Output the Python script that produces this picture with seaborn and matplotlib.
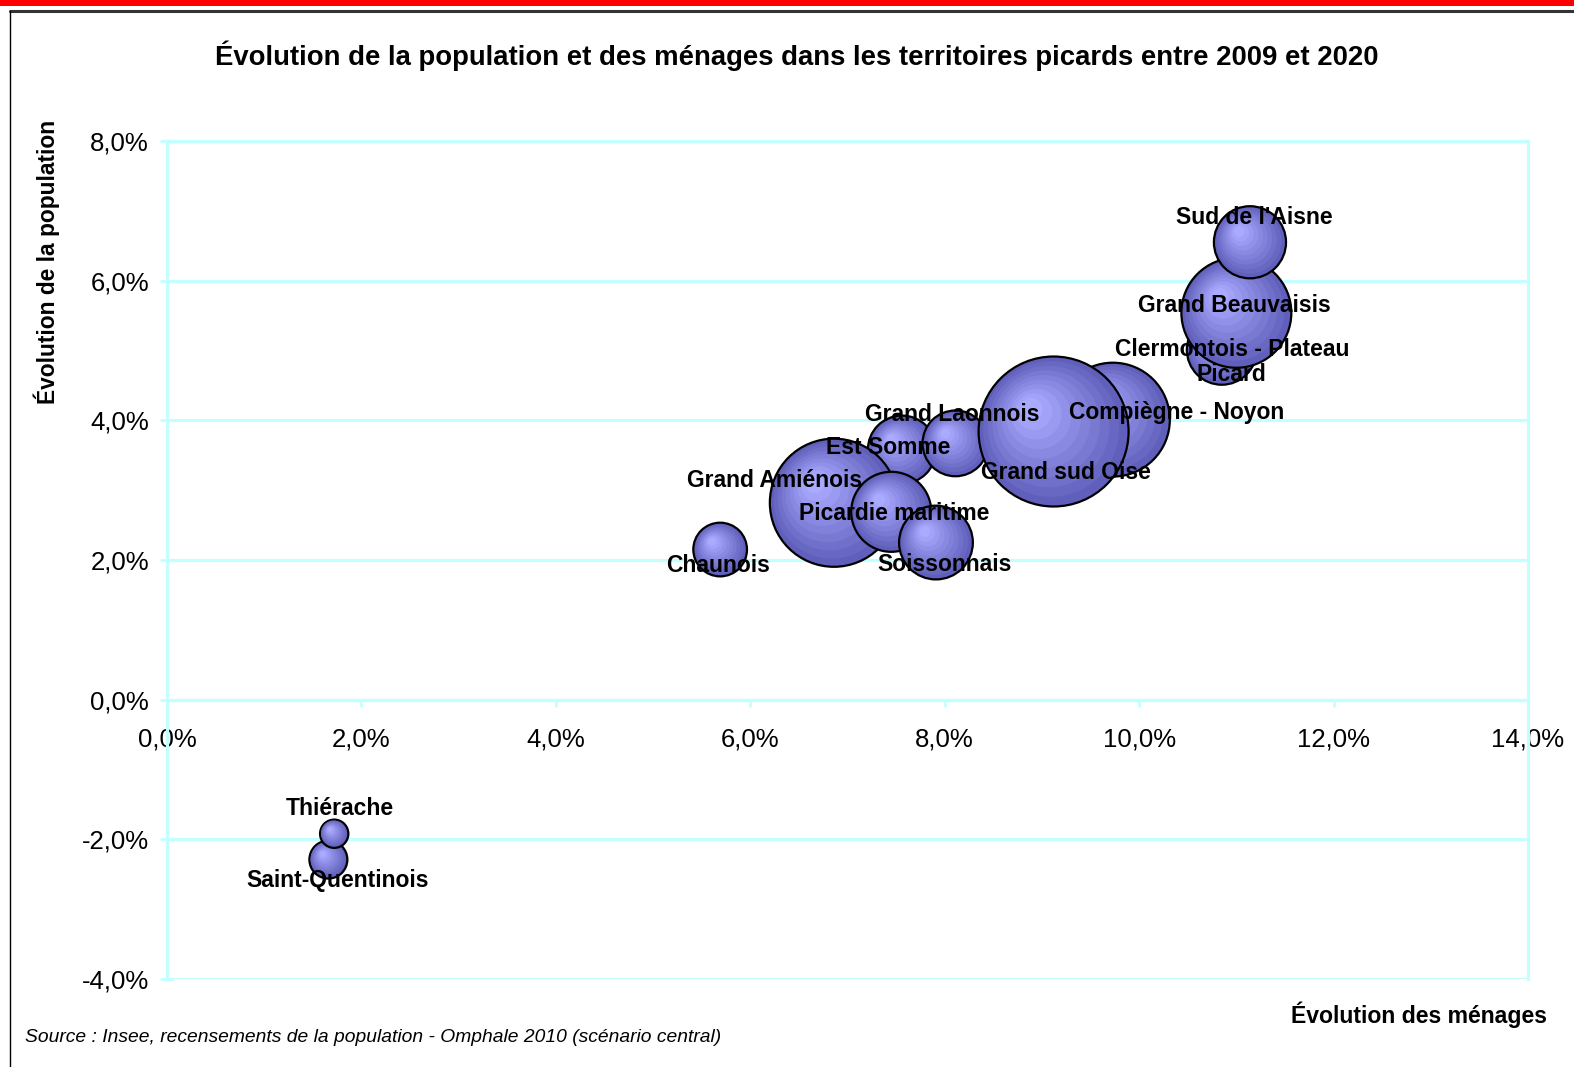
import numpy as np
import pandas as pd
import seaborn as sns
import matplotlib.pyplot as plt
from matplotlib.colors import to_rgb
from matplotlib.ticker import FuncFormatter
from matplotlib.lines import Line2D
from matplotlib.patches import Rectangle

# Données (ordre = ordre de tracé)
territoires = ['Saint-Quentinois', 'Thiérache', 'Chaunois', 'Est Somme', 'Grand Amiénois',
               'Picardie maritime', 'Soissonnais', 'Grand Laonnois', 'Compiègne - Noyon',
               'Grand sud Oise', 'Clermontois - Plateau\nPicard', 'Grand Beauvaisis', "Sud de l'Aisne"]
evol_menages = [1.66, 1.72, 5.69, 7.56, 6.86, 7.45, 7.91, 8.11, 9.73, 9.12, 10.85, 11.00, 11.14]
evol_population = [-2.29, -1.92, 2.15, 3.58, 2.82, 2.69, 2.25, 3.67, 4.01, 3.84, 5.01, 5.54, 6.55]
taille_bulle = [18, 10, 36, 58, 205, 80, 68, 54, 162, 281, 61, 151, 65]

x_ticks = [0, 2, 4, 6, 8, 10, 12, 14]
y_ticks = [-4, -2, 0, 2, 4, 6, 8]

# décalage des étiquettes (pixels, y vers le bas)
decalages = [(9, 21), (6, -25), (-2, 16), (-14, -2), (-59, -22), (3, 2), (9, 22),
             (-3, -29), (64, -7), (12, 41), (10, 12), (-2, -7), (4, -25)]

cyan = '#c4ffff'
couleur_ext = np.array(to_rgb('#6060bc'))
couleur_int = np.array(to_rgb('#aaaaff'))
K = 41.5  # points^2 par unité de taille
dpi = 100

sns.set_style('white')
plt.rcParams['font.family'] = ['Liberation Sans', 'DejaVu Sans']
plt.rcParams['text.color'] = 'black'
plt.rcParams['xtick.labelcolor'] = 'black'
plt.rcParams['ytick.labelcolor'] = 'black'

fig = plt.figure(figsize=(15.74, 10.67), dpi=dpi)
ax = fig.add_axes([167 / 1574, 1 - 979 / 1067, (1528 - 167) / 1574, (979 - 141) / 1067])
ax.set_xlim(0, 14)
ax.set_ylim(-4, 8)

pos = ax.get_position()
px_x = pos.width * fig.get_figwidth() * dpi / 14
px_y = pos.height * fig.get_figheight() * dpi / 12

# couches concentriques pour imiter le dégradé radial
n_couches = 10
facteurs = np.linspace(1, 0.15, n_couches)
lignes = []
for nom, xv, yv, t in zip(territoires, evol_menages, evol_population, taille_bulle):
    r_px = np.sqrt(K * t) / 2 * dpi / 72
    for j, f in enumerate(facteurs):
        dec = 0.35 * r_px * (1 - f)
        lignes.append({'x': xv - dec / px_x, 'y': yv + dec / px_y,
                       's': t * f ** 2, 'couche': j})
df = pd.DataFrame(lignes)
palette = {j: tuple(couleur_ext + (couleur_int - couleur_ext) * (j / (n_couches - 1)))
           for j in range(n_couches)}
bords = ['black' if j == 0 else 'none' for j in df['couche']]
epais = [1.6 if j == 0 else 0 for j in df['couche']]

smax = max(taille_bulle)
sns.scatterplot(data=df, x='x', y='y', hue='couche', palette=palette, size='s',
                sizes=(0, K * smax), size_norm=(0, smax), edgecolor=bords,
                linewidth=epais, legend=False, ax=ax, zorder=3, clip_on=False)

for nom, xv, yv, (dx, dy) in zip(territoires, evol_menages, evol_population, decalages):
    ax.annotate(nom, (xv, yv), xytext=(dx * 0.72, -dy * 0.72), textcoords='offset points',
                ha='center', va='center', fontsize=16.5, fontweight='bold',
                linespacing=1.1, zorder=6)

ax.set_xticks(x_ticks)
ax.set_yticks(y_ticks)
fmt = FuncFormatter(lambda v, p: f'{v:.1f}%'.replace('.', ','))
ax.xaxis.set_major_formatter(fmt)
ax.yaxis.set_major_formatter(fmt)
ax.set_xlabel('')
ax.set_ylabel('')
ax.set_axisbelow(True)
ax.yaxis.grid(True, color=cyan, linewidth=2.3)
ax.xaxis.grid(False)
for sp in ax.spines.values():
    sp.set_color(cyan)
    sp.set_linewidth(2.3)
    sp.set_visible(True)
ax.spines['bottom'].set_position(('data', 0))
ax.tick_params(axis='y', direction='inout', length=10, width=2, color=cyan,
               labelsize=18.5, pad=8, left=True)
ax.tick_params(axis='x', direction='out', length=5, width=2, color=cyan,
               labelsize=18.5, pad=15, bottom=True)

fig.text(797 / 1574, 1 - 56 / 1067,
         'Évolution de la population et des ménages dans les territoires picards entre 2009 et 2020',
         ha='center', va='center', fontsize=19.8, fontweight='bold')
fig.text(47 / 1574, 1 - 262 / 1067, 'Évolution de la population', rotation=90,
         ha='center', va='center', fontsize=16.4, fontweight='bold')
fig.text(1547 / 1574, 1 - 1015 / 1067, 'Évolution des ménages',
         ha='right', va='center', fontsize=16.6, fontweight='bold')
fig.text(25 / 1574, 1 - 1037 / 1067,
         'Source : Insee, recensements de la population - Omphale 2010 (scénario central)',
         ha='left', va='center', fontsize=13.9, style='italic')

# bandeau rouge et cadre
fig.patches.append(Rectangle((0, 1 - 6 / 1067), 1, 6 / 1067, transform=fig.transFigure,
                             facecolor='#ff0000', edgecolor='none'))
fig.lines.append(Line2D([10 / 1574, 1], [1 - 11 / 1067] * 2, transform=fig.transFigure,
                        color='#333333', linewidth=2.2))
fig.lines.append(Line2D([10 / 1574] * 2, [0, 1 - 11 / 1067], transform=fig.transFigure,
                        color='black', linewidth=1))

fig.savefig('out.png', dpi=dpi)
